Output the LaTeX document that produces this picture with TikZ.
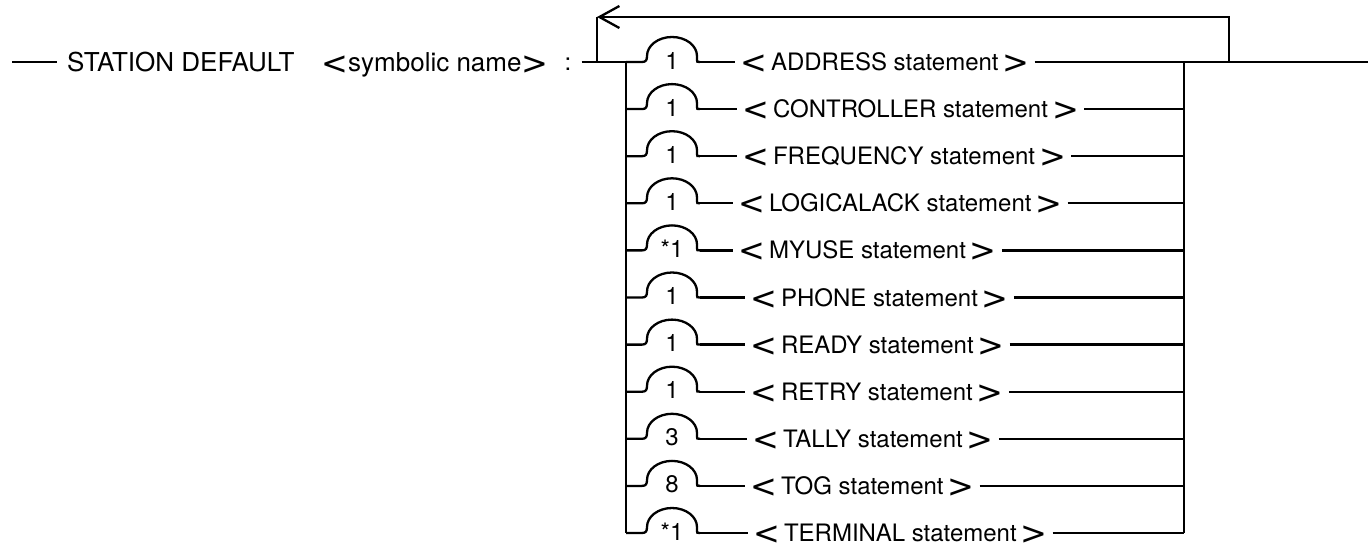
\documentclass[tikz,border=0pt]{standalone}
\usepackage{fontspec}
\setmainfont{TeX Gyre Heros}
\newfontfamily\symfont{DejaVu Sans}
\usetikzlibrary{arrows.meta}
\newcommand{\lsym}{{\symfont\fontsize{32}{32}\selectfont\raisebox{-3pt}{<}}}
\newcommand{\gsym}{{\symfont\fontsize{32}{32}\selectfont\raisebox{-3pt}{>}}}
\newcommand{\lc}[1]{{\fontsize{24}{24}\selectfont #1}}
\newcommand{\hlc}[1]{{\fontsize{26}{26}\selectfont #1}}
\tikzset{
  conn/.style={line width=2.3pt},
  lbl/.style={font=\fontsize{24}{24}\selectfont, inner ysep=0pt, inner xsep=5pt,
              text height=20.2pt, text depth=3pt, anchor=west},
  hdrlbl/.style={lbl, font=\fontsize{26}{26}\selectfont, text height=21.6pt, text depth=3pt},
  numlbl/.style={font=\fontsize{24}{24}\selectfont, inner sep=0pt},
  bump/.pic={\draw[conn] (0,0) -- (16,0) .. controls (20,0) and (21,2) .. (21,6)
      arc[start angle=180,end angle=0,x radius=25,y radius=19]
      -- (71,2) .. controls (71,0) .. (74,0);}
}
\begin{document}
\begin{tikzpicture}[x=1pt,y=1pt]
\useasboundingbox (0,0) rectangle (1371,547);
% header
\coordinate (s0) at (12,485);
\node[hdrlbl, inner xsep=10pt] (hdr) at (57,485) {STATION DEFAULT\hspace{27pt}\lsym\hlc{symbolic name}\gsym};
\node[lbl, anchor=center, inner xsep=10pt] (col) at (568,485) {:};
\draw[conn] (s0) -- (hdr.west);
\coordinate (Lj) at (597,485);
\coordinate (Lc) at (597,530);
\coordinate (Rj) at (1229,485);
\coordinate (X) at (1368,485);
\draw[conn] (col.east) -- (Lj);
% loop back
\draw[conn, -{Straight Barb[length=20pt,width=22pt]}] (Rj) |- (Lc);
\draw[conn] (Lc) -- (Lj);
% rows
\foreach \i/\n/\kw/\xs in {0/1/ADDRESS/740, 1/1/CONTROLLER/742, 2/1/FREQUENCY/742,
   3/1/LOGICALACK/738, 4/*1/MYUSE/738, 5/1/PHONE/750, 6/1/READY/750, 7/1/RETRY/750,
   8/3/TALLY/752, 9/8/TOG/750, 10/*1/TERMINAL/753}{
  \pgfmathsetmacro{\yy}{485-47.1*\i}
  \coordinate (B\i) at (626,\yy);
  \coordinate (E\i) at (700,\yy);
  \coordinate (C\i) at (1184,\yy);
  \pic at (B\i) {bump};
  \node[numlbl] (n\i) at (672,\yy+1.5) {\n};
  \node[lbl] (t\i) at (\xs-5,\yy) {\lsym\,\kw\ \lc{statement}\,\gsym};
  \draw[conn] (E\i) -- (t\i.west);
  \draw[conn] (t\i.east) -- (C\i);
}
\draw[conn] (Lj) -- (B0);
\draw[conn] (B0) -- (B10);
\draw[conn] (C0) -- (C10);
\draw[conn] (C0) -- (Rj) -- (X);
\end{tikzpicture}
\end{document}
